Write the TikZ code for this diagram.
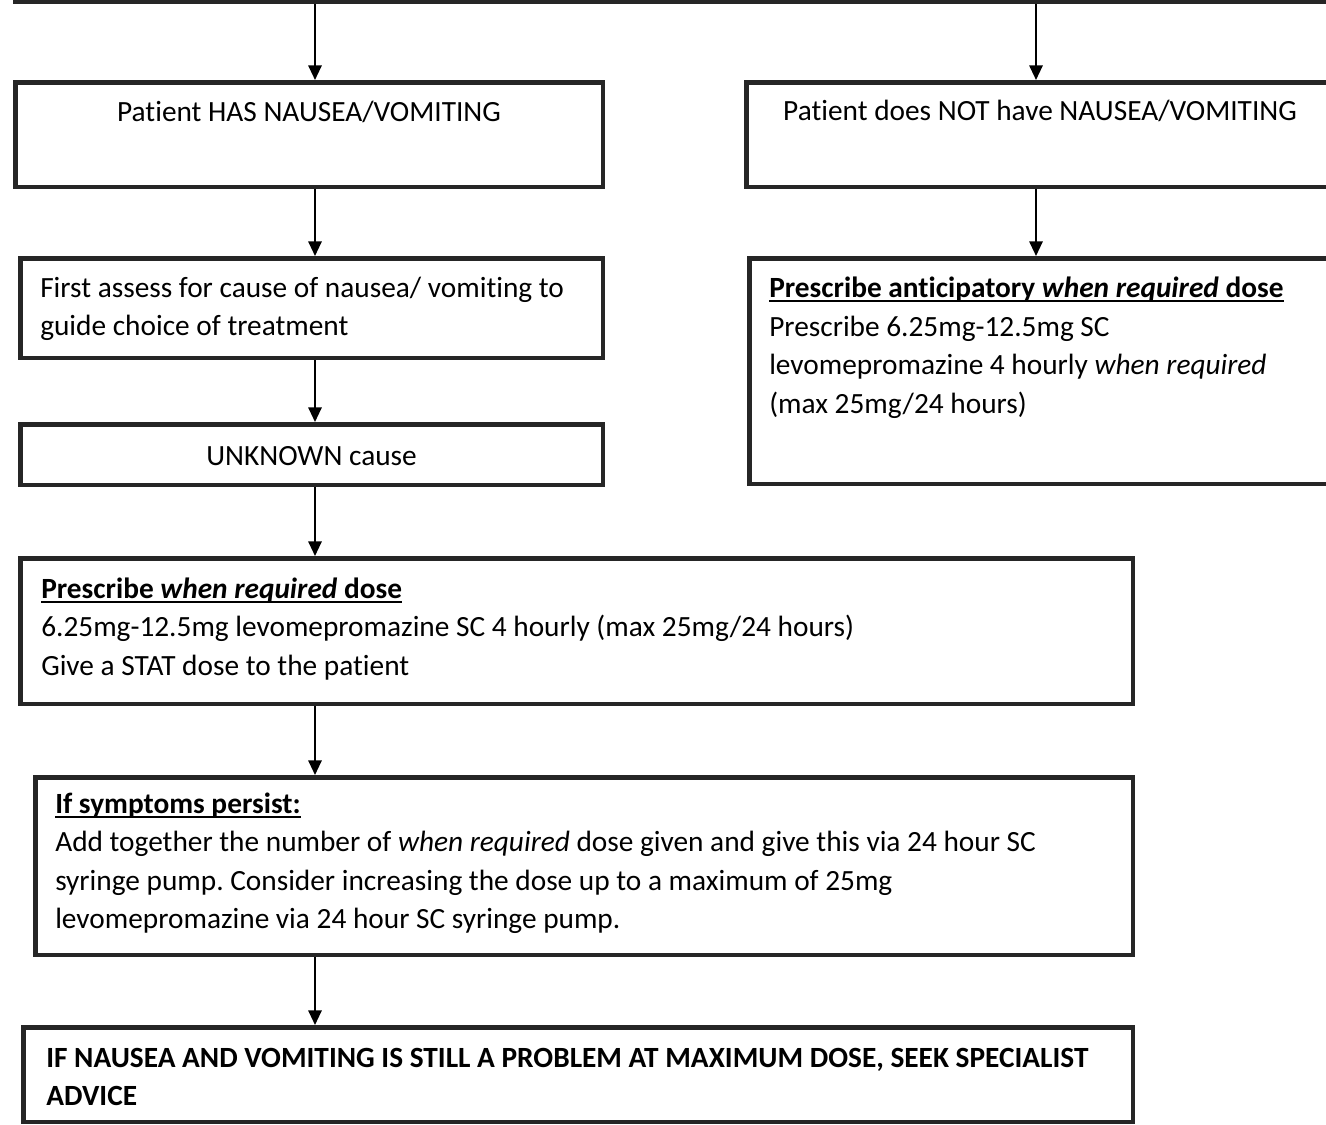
\documentclass[tikz,border=0pt]{standalone}
\usepackage{fontspec}
\setmainfont{Carlito}[Ligatures={NoCommon,NoContextual}]
\usetikzlibrary{arrows.meta}
\frenchspacing

% underline with a rule of fixed weight
\newcommand\ulbox[1]{\setbox0\hbox{#1}\rlap{\rule[-3.4pt]{\wd0}{1.4pt}}\box0}

\definecolor{edge}{HTML}{262626}

\begin{document}
\begin{tikzpicture}[x=0.75pt,y=-0.75pt,
  box/.style={draw=edge, line width=3.4pt, rectangle, inner sep=0pt, anchor=north west},
  sz/.style 2 args={minimum width={(#1-4.5)*0.75pt}, minimum height={(#2-4.5)*0.75pt}},
  txt/.style={inner sep=0pt, anchor=base west, font=\fontsize{22}{31}\selectfont},
  ctxt/.style={inner sep=0pt, anchor=base, font=\fontsize{22}{31}\selectfont},
  arr/.style={line width=1.5pt, -{Triangle[width=10pt,length=11pt]}}]

\useasboundingbox (0,0) rectangle (1326,1124);
\clip (0,0) rectangle (1326,1124);

% columns of the connectors
\coordinate (colL) at (315,0);
\coordinate (colR) at (1036,0);

% boxes
\node[box, sz={1387}{104}] (top) at (13,-100) {};
\node[box, sz={592}{109}] (has) at (13,80) {};
\node[box, sz={592}{109}] (not) at (744,80) {};
\node[box, sz={587}{104}] (assess) at (18,256) {};
\node[box, sz={587}{230}] (antic) at (747,256) {};
\node[box, sz={587}{65}] (unknown) at (18,422) {};
\node[box, sz={1117}{150}] (prn) at (18,556) {};
\node[box, sz={1102}{182}] (persist) at (33,775) {};
\node[box, sz={1114}{99}] (advice) at (21,1025) {};

% texts
\node[ctxt] (has-t) at (309,121) {Patient HAS NAUSEA/VOMITING};
\node[ctxt] (not-t) at (1040,120) {Patient does NOT have NAUSEA/VOMITING};

\node[txt] (assess-1) at (40,297) {First assess for cause of nausea/ vomiting to};
\node[txt] (assess-2) at (40,335) {guide choice of treatment};

\node[txt] (antic-1) at (769,297) {\ulbox{\textbf{Prescribe anticipatory \textit{when required} dose}}};
\node[txt] (antic-2) at (769,336) {Prescribe 6.25mg-12.5mg SC};
\node[txt] (antic-3) at (769,374) {levomepromazine 4 hourly \textit{when required}};
\node[txt] (antic-4) at (769,413) {(max 25mg/24 hours)};

\node[ctxt] (unknown-t) at (311.5,465) {UNKNOWN cause};

\node[txt] (prn-1) at (41,598) {\ulbox{\textbf{Prescribe \textit{when required} dose}}};
\node[txt] (prn-2) at (41,636.5) {6.25mg-12.5mg levomepromazine SC 4 hourly (max 25mg/24 hours)};
\node[txt] (prn-3) at (41,675) {Give a STAT dose to the patient};

\node[txt] (persist-1) at (55,813) {\ulbox{\textbf{If symptoms persist:}}};
\node[txt] (persist-2) at (55,851) {Add together the number of \textit{when required} dose given and give this via 24 hour SC};
\node[txt] (persist-3) at (55,890) {syringe pump. Consider increasing the dose up to a maximum of 25mg};
\node[txt] (persist-4) at (55,928) {levomepromazine via 24 hour SC syringe pump.};

\node[txt] (advice-1) at (46,1067) {\textbf{IF NAUSEA AND VOMITING IS STILL A PROBLEM AT MAXIMUM DOSE, SEEK SPECIALIST}};
\node[txt] (advice-2) at (46,1105) {\textbf{ADVICE}};

% connectors
\draw[arr] (top.south -| colL) -- (has.north -| colL);
\draw[arr] (top.south -| colR) -- (not.north -| colR);
\draw[arr] (has.south -| colL) -- (assess.north -| colL);
\draw[arr] (not.south -| colR) -- (antic.north -| colR);
\draw[arr] (assess.south -| colL) -- (unknown.north -| colL);
\draw[arr] (unknown.south -| colL) -- (prn.north -| colL);
\draw[arr] (prn.south -| colL) -- (persist.north -| colL);
\draw[arr] (persist.south -| colL) -- (advice.north -| colL);
\end{tikzpicture}
\end{document}
